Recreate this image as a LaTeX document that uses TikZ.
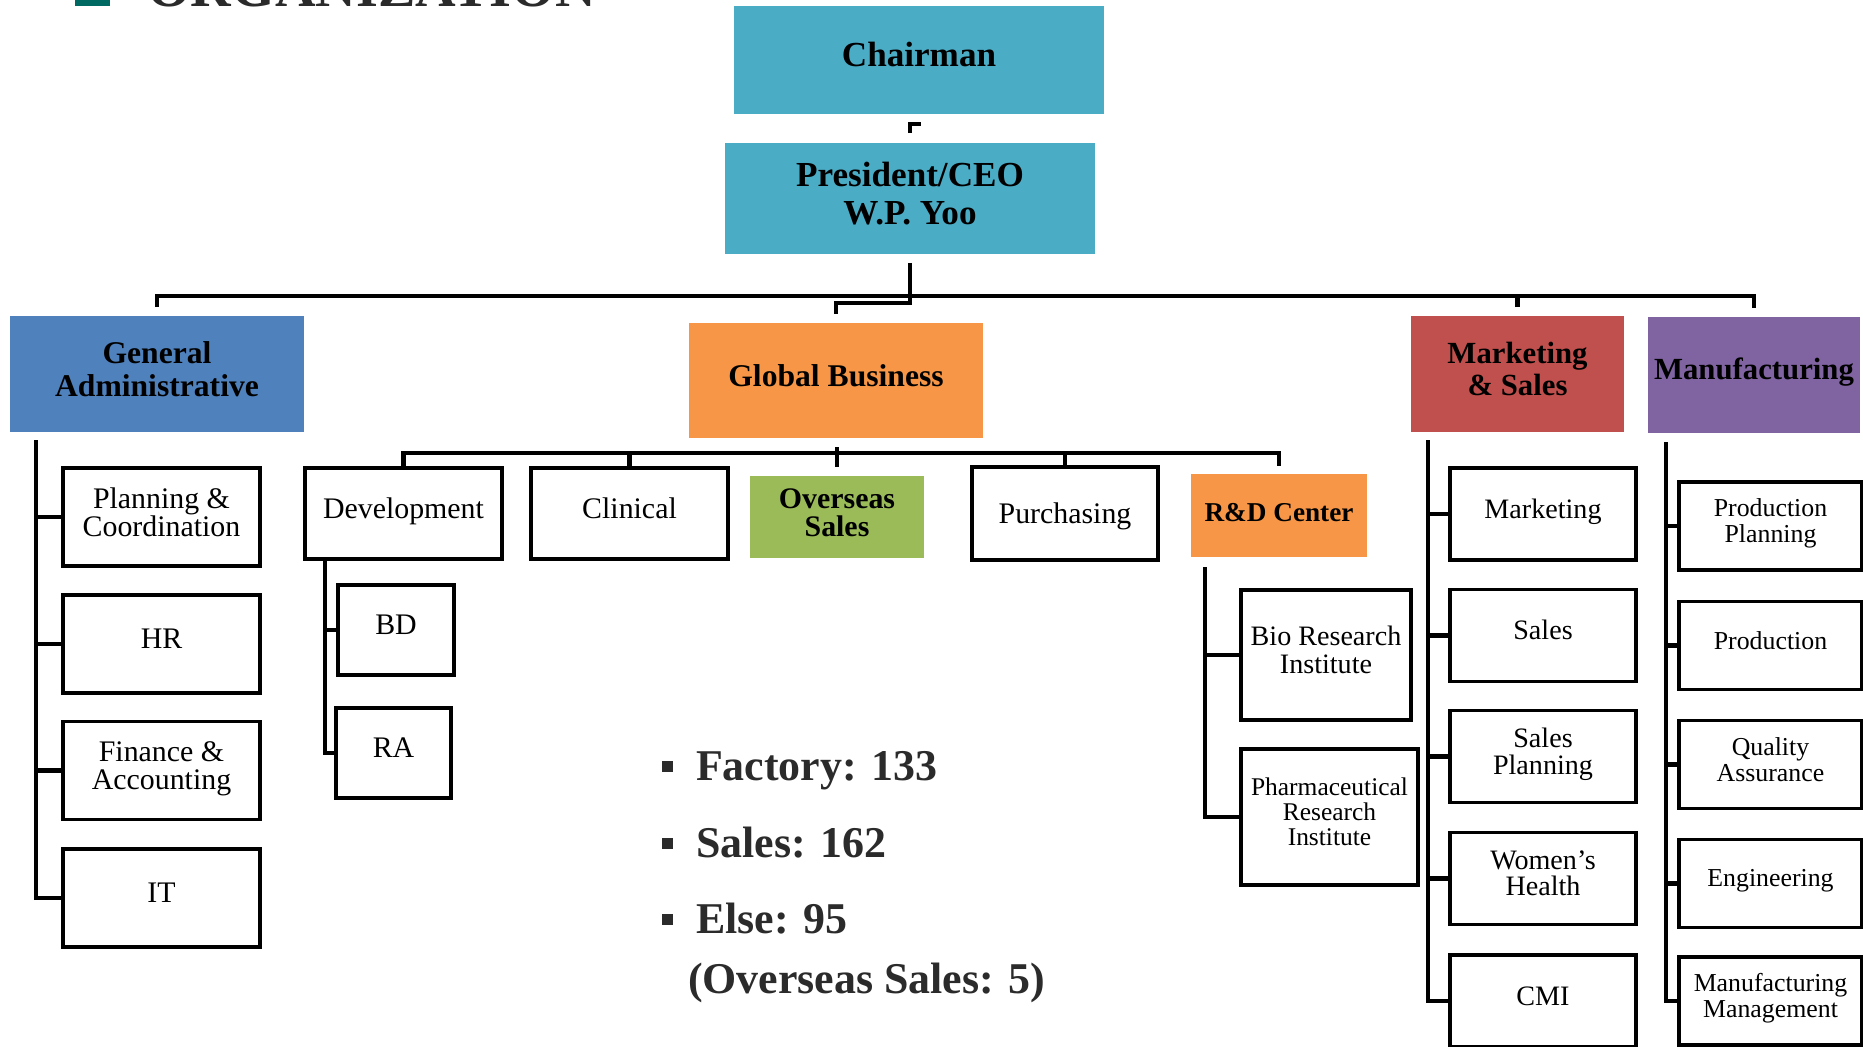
\documentclass[tikz,border=0pt]{standalone}
\usepackage{fontspec}
\setmainfont{Liberation Serif}
\usetikzlibrary{positioning}
\usetikzlibrary{calc}
\definecolor{aqua}{HTML}{4BACC6}
\definecolor{officeblue}{HTML}{4F81BD}
\definecolor{officeorange}{HTML}{F79646}
\definecolor{officegreen}{HTML}{9BBB59}
\definecolor{officered}{HTML}{C0504D}
\definecolor{officepurple}{HTML}{8064A2}
\definecolor{textgray}{HTML}{2B2B2B}
\definecolor{titleteal}{HTML}{006A62}

\begin{document}
\begin{tikzpicture}[x=0.02cm,y=-0.02cm,line join=miter]
	\tikzstyle{every node}=[inner sep=0pt,outer sep=0pt,align=center]
	\tikzstyle{deptbox}=[minimum width=5.88cm,minimum height=2.32cm,text depth=6pt,font=\fontsize{18}{19}\selectfont\bfseries]
	\tikzstyle{subbox}=[draw,line width=1.9pt,fill=white,minimum width=3.94cm,minimum height=1.96cm,text depth=6pt,font=\fontsize{17}{16}\selectfont]
	\tikzstyle{msbox}=[subbox,minimum width=3.72cm,minimum height=1.84cm,font=\fontsize{16}{15}\selectfont]
	\tikzstyle{mfgbox}=[subbox,minimum width=3.66cm,minimum height=1.76cm,font=\fontsize{14.7}{14.8}\selectfont]
	\tikzstyle{conn}=[line width=2.3pt]
	\tikzstyle{bulletbox}=[fill=textgray,minimum size=0.22cm]
	\tikzstyle{headcount}=[anchor=base west,text=textgray,font=\fontsize{25}{30}\selectfont\bfseries]
	
	\useasboundingbox (0,0) rectangle (1863,1046);
	
	\node[fill=titleteal,minimum size=0.7cm] (TitleMark) at (92.5,-12) {};
	\node[anchor=base west,text=textgray,font=\fontsize{32}{32}\selectfont\bfseries] (Title) at (147,6) {ORGANIZATION};
	
	\node[deptbox,fill=aqua,minimum width=7.4cm,minimum height=2.18cm,text depth=6.8pt,font=\fontsize{20}{21.6}\selectfont\bfseries] (Chairman) at (919,60) {Chairman};
	\node[deptbox,fill=aqua,minimum width=7.4cm,minimum height=2.22cm,font=\fontsize{20}{21.6}\selectfont\bfseries] (President) at (910,198.5) {President/CEO\\W.P. Yoo};
	
	\node[deptbox,fill=officeblue]   (GenAdmin)      at (157,374)    {General\\Administrative};
	\node[deptbox,fill=officeorange,minimum height=2.3cm,text depth=5.5pt] (GlobalBiz) at (836,380.5) {Global Business};
	\node[deptbox,fill=officered,minimum width=4.26cm,font=\fontsize{17.5}{18}\selectfont\bfseries] (MktSales) at (1517.5,374) {Marketing\\\& Sales};
	\node[deptbox,fill=officepurple,minimum width=4.24cm,text depth=6.8pt,font=\fontsize{17.5}{18}\selectfont\bfseries] (Manufacturing) at (1754,375) {Manufacturing};
	
	\node[subbox] (PlanCoord) at (161.5,517)   {Planning \&\\Coordination};
	\node[subbox] (HR)        at (161.5,644)   {HR};
	\node[subbox] (FinAcc)    at (161.5,770.5) {Finance \&\\Accounting};
	\node[subbox] (IT)        at (161.5,898)   {IT};
	
	\node[subbox,minimum height=1.82cm] (Development) at (403.5,513.5) {Development};
	\node[subbox,minimum height=1.82cm] (Clinical)    at (629.5,513.5) {Clinical};
	\node[deptbox,fill=officegreen,minimum width=3.5cm,minimum height=1.64cm,text depth=5.5pt,font=\fontsize{17}{16}\selectfont\bfseries] (Overseas) at (837,517) {Overseas\\Sales};
	\node[subbox,minimum width=3.72cm,minimum height=1.86cm,text depth=0pt] (Purchasing) at (1065,513.5) {Purchasing};
	\node[deptbox,fill=officeorange,minimum width=3.52cm,minimum height=1.66cm,text depth=4pt,font=\fontsize{15.5}{16}\selectfont\bfseries] (RDCenter) at (1279,515.5) {R\&D Center};
	
	\node[subbox,minimum width=2.32cm,minimum height=1.8cm] (BD) at (396,630)   {BD};
	\node[subbox,minimum width=2.3cm,minimum height=1.8cm]  (RA) at (393.5,753) {RA};
	
	\node[subbox,minimum width=3.4cm,minimum height=2.6cm,font=\fontsize{16}{15.5}\selectfont] (Bio) at (1326,655) {Bio Research\\Institute};
	\node[subbox,minimum width=3.54cm,minimum height=2.72cm,font=\fontsize{14.5}{14}\selectfont] (Pharma) at (1329.5,817) {Pharmaceutical\\Research\\Institute};
	
	\node[msbox] (Marketing)    at (1543,514)   {Marketing};
	\node[msbox] (Sales)        at (1543,635.5) {Sales};
	\node[msbox] (SalesPlan)    at (1543,756.5) {Sales\\Planning};
	\node[msbox] (WomensHealth) at (1543,878.5) {Women’s\\Health};
	\node[msbox] (CMI)          at (1543,1001)  {CMI};
	
	\node[mfgbox] (ProdPlan)    at (1770.5,526)   {Production\\Planning};
	\node[mfgbox] (Production)  at (1770.5,645.5) {Production};
	\node[mfgbox] (Quality)     at (1770.5,764.5) {Quality\\Assurance};
	\node[mfgbox] (Engineering) at (1770.5,883.5) {Engineering};
	\node[mfgbox] (MfgMgmt)     at (1770.5,1001)  {Manufacturing\\Management};
	
	\coordinate (Bar) at (910,296);
	\coordinate (GBar) at (836,453);
	\coordinate (GASpine) at (36,440);
	\coordinate (DevSpine) at (325,559);
	\coordinate (RDSpine) at (1205,567);
	\coordinate (MSSpine) at (1428,440);
	\coordinate (MfgSpine) at (1666,442);
	
	\draw[conn] ($(President.north)+(0,-10)$) -- ++(0,-9) -- ++(11,0);
	\draw[conn] ($(President.south)+(0,9)$) -- ++(0,40) -| ($(GlobalBiz.north)+(0,-9)$);
	\draw[conn] ($(GenAdmin.north)+(0,-9)$) |- (Bar) -| ($(Manufacturing.north)+(0,-9)$);
	\draw[conn] ($(MktSales.north)+(0,-9)$) -- (MktSales.north |- Bar);
	
	\draw[conn] (Development.north) |- (GBar) -| ($(RDCenter.north)+(0,-8)$);
	\draw[conn] (Clinical.north) -- (Clinical.north |- GBar);
	\draw[conn] (Purchasing.north) -- (Purchasing.north |- GBar);
	\draw[conn] ($(Overseas.north)+(0,-29)$) -- ($(Overseas.north)+(0,-9)$);
	
	\draw[conn] (GASpine) |- (IT.west);
	\foreach \n in {PlanCoord,HR,FinAcc}
		\draw[conn] (\n.west) -- (\n.west -| GASpine);
	\draw[conn] (DevSpine) |- (RA.west);
	\draw[conn] (BD.west) -- (BD.west -| DevSpine);
	\draw[conn] (RDSpine) |- (Pharma.west);
	\draw[conn] (Bio.west) -- (Bio.west -| RDSpine);
	\draw[conn] (MSSpine) |- (CMI.west);
	\foreach \n in {Marketing,Sales,SalesPlan,WomensHealth}
		\draw[conn] (\n.west) -- (\n.west -| MSSpine);
	\draw[conn] (MfgSpine) |- (MfgMgmt.west);
	\foreach \n in {ProdPlan,Production,Quality,Engineering}
		\draw[conn] (\n.west) -- (\n.west -| MfgSpine);
	
	\node[bulletbox] (Dot1) at (667.5,766) {};
	\node[headcount] (Factory) at (696,780) {Factory: 133};
	\node[bulletbox] (Dot2) at (667.5,843) {};
	\node[headcount] (SalesNum) at (696,857) {Sales: 162};
	\node[bulletbox] (Dot3) at (667.5,919) {};
	\node[headcount] (Else) at (696,933) {Else: 95};
	\node[headcount] (OverseasNum) at (688,993) {(Overseas Sales: 5)};
\end{tikzpicture}
\end{document}
